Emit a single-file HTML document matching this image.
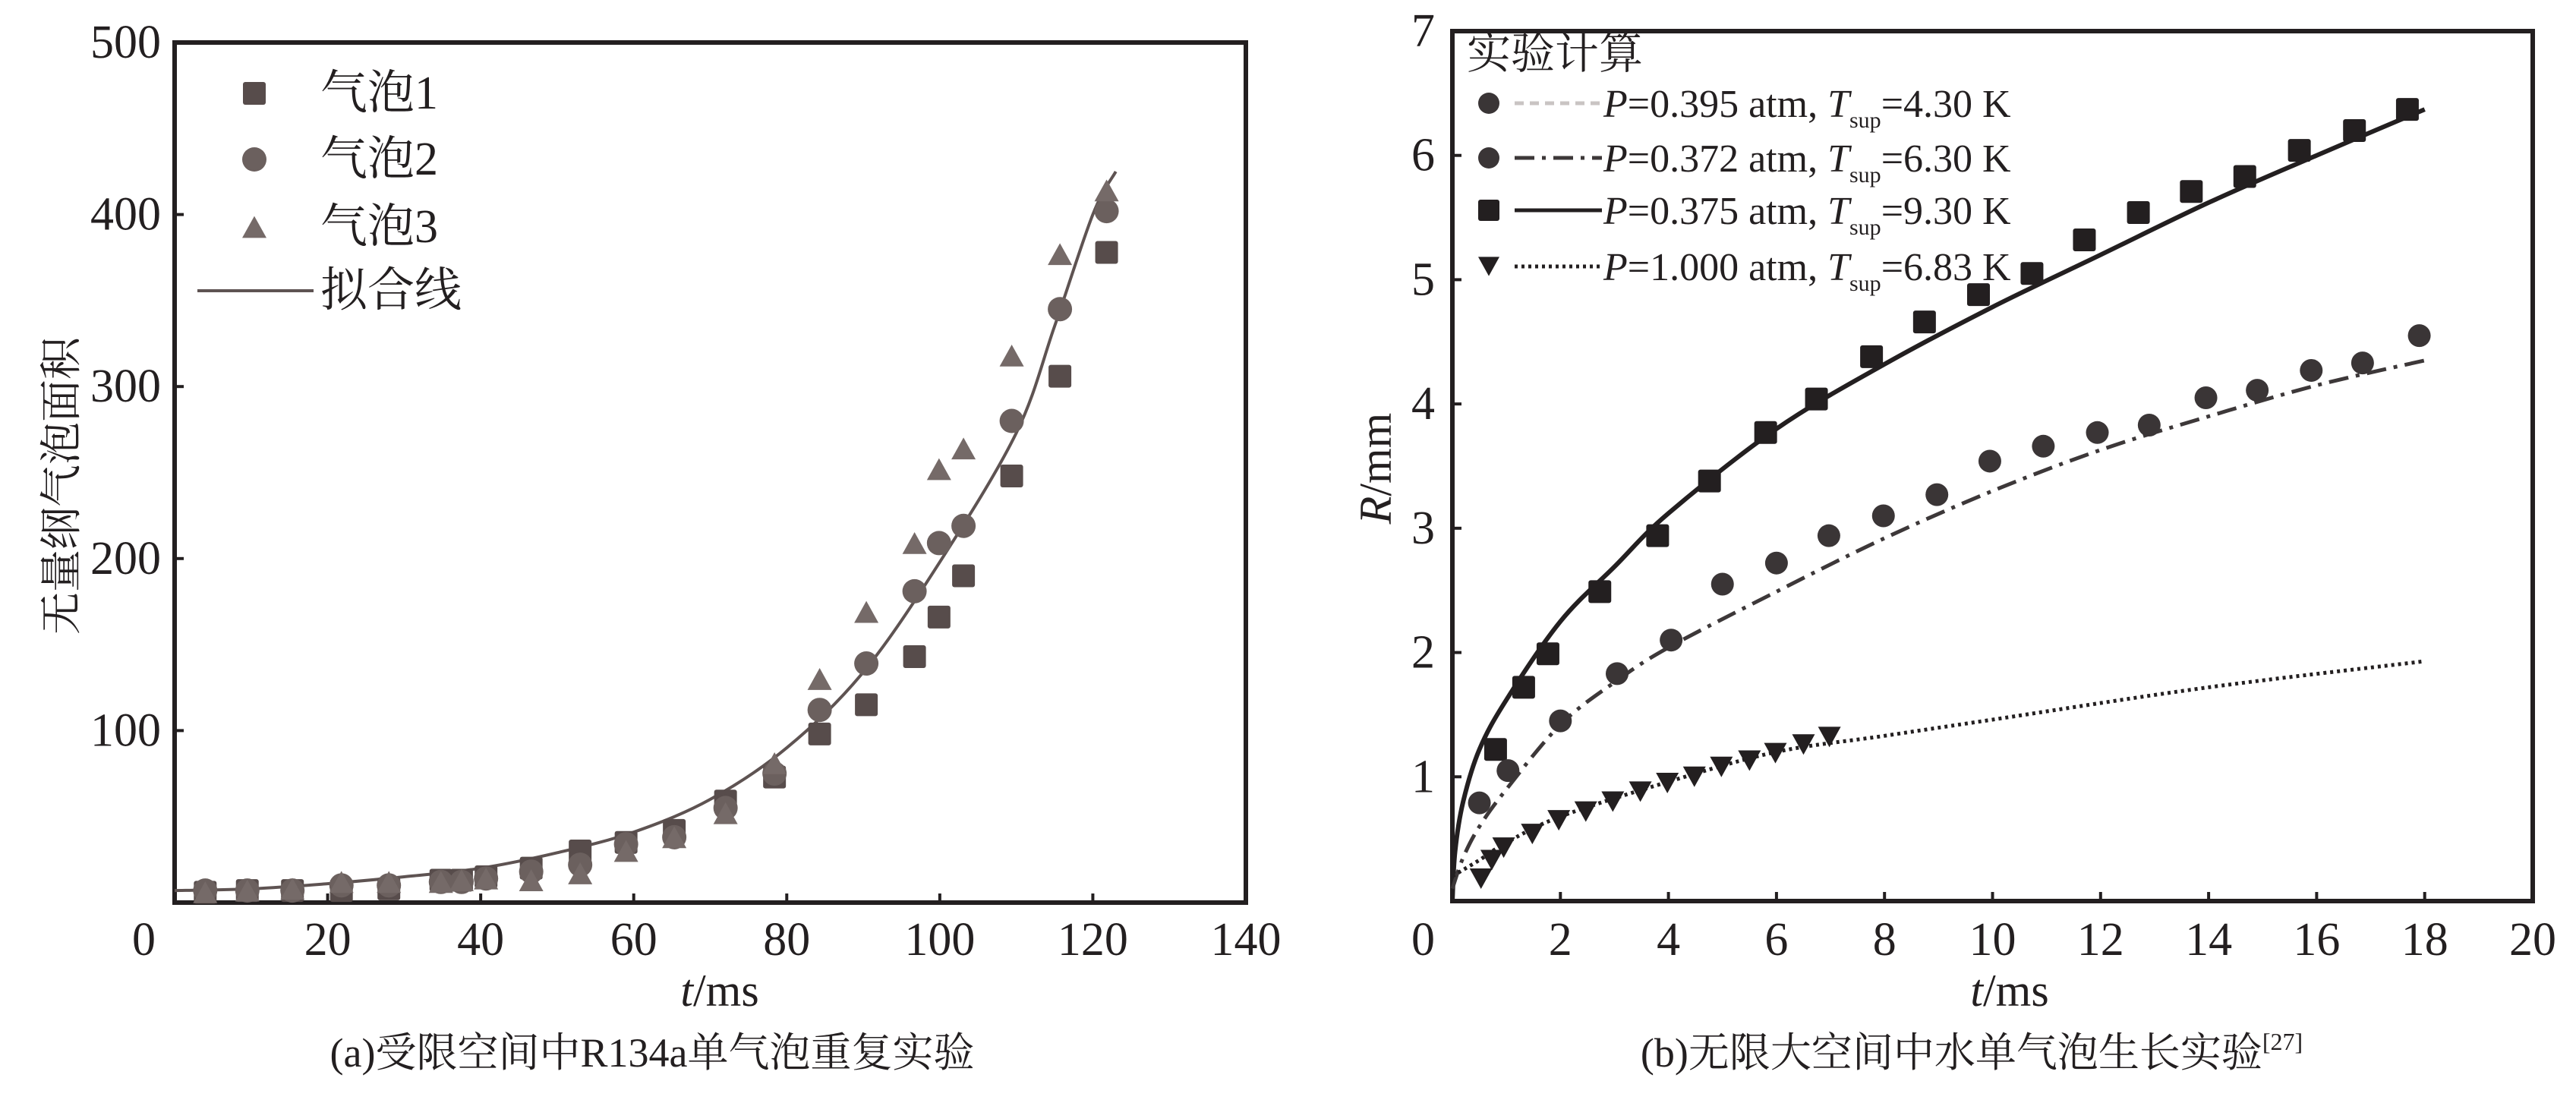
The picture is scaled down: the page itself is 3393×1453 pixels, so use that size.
<!DOCTYPE html>
<html><head><meta charset="utf-8">
<style>
html,body{margin:0;padding:0;background:#fff;}
svg{display:block;}
text{font-family:"Liberation Serif","Noto Serif CJK SC","Noto Sans CJK SC",serif;fill:#231f20;}
</style></head>
<body>
<svg id="fig" width="3393" height="1453" viewBox="0 0 3393 1453" xmlns="http://www.w3.org/2000/svg"></svg>
<script>
// ---- Chart (a) data ----
const aXTicks = [0,20,40,60,80,100,120,140];
const aYTicks = [100,200,300,400,500];
const b1X = [4,9.5,15.4,21.8,28,34.8,37.5,40.7,46.6,53,59,65.3,72,78.4,84.3,90.4,96.7,99.9,103.1,109.4,115.7,121.8];
const b1Y = [6,7,7,7,8,13,13,15,20,30,35,42,59,73,98,115,143,166,190,248,306,378];
const b2X = [4,9.5,15.4,21.8,28,34.8,37.5,40.7,46.6,53,59,65.3,72,78.4,84.3,90.4,96.7,99.9,103.1,109.4,115.7,121.8];
const b2Y = [7,7,7,10,10,12,12,14,18,22,34,38,55,75,112,139,181,209,219,280,345,402];
const b3X = [4,9.5,15.4,21.8,28,34.8,37.5,40.7,46.6,53,59,65.3,72,78.4,84.3,90.4,96.7,99.9,103.1,109.4,115.7,121.8];
const b3Y = [6,7,8,12,12,12,13,14,13,17,30,38,52,81,130,169,209,252,264,318,377,414];
const fitX = [0,10,20,30,40,50,60,70,80,90,100,110,115,120,123];
const fitY = [7,8,11,15,20,29,41,60,90,134,198,273,335,400,425];
// ---- Chart (b) data ----
const bXTicks = [2,4,6,8,10,12,14,16,18,20];
const bYTicks = [1,2,3,4,5,6,7];
const sqX = [0.8,1.32,1.77,2.73,3.8,4.76,5.8,6.74,7.76,8.74,9.74,10.73,11.7,12.7,13.68,14.67,15.68,16.7,17.68];
const sqY = [1.22,1.72,1.99,2.49,2.94,3.38,3.77,4.04,4.38,4.66,4.88,5.05,5.32,5.54,5.71,5.83,6.04,6.2,6.37];
const ciX = [0.5,1.03,2,3.05,4.05,5,6,6.97,7.98,8.97,9.95,10.94,11.94,12.9,13.95,14.9,15.9,16.85,17.9];
const ciY = [0.79,1.05,1.45,1.83,2.1,2.55,2.72,2.94,3.1,3.27,3.54,3.66,3.77,3.83,4.05,4.11,4.27,4.33,4.55];
const trX = [0.53,0.73,0.95,1.48,1.97,2.47,2.97,3.48,3.98,4.48,4.98,5.5,5.98,6.5,6.98];
const trY = [0.18,0.33,0.43,0.54,0.65,0.72,0.8,0.88,0.95,1.0,1.08,1.13,1.19,1.26,1.32];
const solidX = [0,0.05,0.2,0.5,1,2,3,4,6,8,10,12,14,16,18];
const solidY = [0,0.4,0.8,1.22,1.62,2.25,2.69,3.12,3.8,4.32,4.78,5.2,5.62,6.0,6.37];
const dashX = [0,0.2,0.5,1,2,3,4,6,8,10,12,14,16,18];
const dashY = [0.1,0.35,0.6,0.9,1.42,1.76,2.04,2.49,2.92,3.3,3.63,3.9,4.15,4.35];
const dotX = [0,0.5,1,2,4,6,8,10,14,18];
const dotY = [0.2,0.33,0.47,0.68,0.96,1.2,1.33,1.46,1.72,1.93];

const NS = "http://www.w3.org/2000/svg";
const svg = document.getElementById('fig');
function mk(tag, attrs, parent){
  const e = document.createElementNS(NS, tag);
  for (const k in attrs) e.setAttribute(k, attrs[k]);
  (parent||svg).appendChild(e);
  return e;
}
const ax = v => 230 + v*(1641-230)/140;
const ay = v => 1189 - v*(1189-56)/500;
const bx = v => 1913 + v*(3336-1913)/20;
const by = v => 1187 - v*(1187-41)/7;

function sq(cx,cy,s,fill,name){
  const e = mk('rect',{x:cx-s/2,y:cy-s/2,width:s,height:s,rx:3,fill:fill});
  
  
  return e;
}
function ci(cx,cy,r,fill,name){
  const e = mk('circle',{cx:cx,cy:cy,r:r,fill:fill});
  
  
  return e;
}
function tri(cx,cy,s,fill,up,name){
  const h = s*0.9;
  const pts = up ? `${cx-s/2},${cy+h/2} ${cx+s/2},${cy+h/2} ${cx},${cy-h/2}` : `${cx-s/2},${cy-h/2} ${cx+s/2},${cy-h/2} ${cx},${cy+h/2}`;
  const e = mk('polygon',{points:pts,fill:fill});
  
  
  return e;
}
function txt(x,y,s,size,anchor,name,extra){
  const e = mk('text',Object.assign({x:x,y:y,'font-size':size,'text-anchor':anchor||'start'},extra||{}));
  e.textContent = s;
  
  
  return e;
}
function path(xs,ys,fx,fy,attrs,name){
  const P = xs.map((v,i)=>[fx(v),fy(ys[i])]);
  let d = 'M'+P[0][0].toFixed(1)+','+P[0][1].toFixed(1);
  for(let i=0;i<P.length-1;i++){
    const p0=P[Math.max(0,i-1)], p1=P[i], p2=P[i+1], p3=P[Math.min(P.length-1,i+2)];
    const c1=[p1[0]+(p2[0]-p0[0])/6, p1[1]+(p2[1]-p0[1])/6];
    const c2=[p2[0]-(p3[0]-p1[0])/6, p2[1]-(p3[1]-p1[1])/6];
    d += 'C'+c1[0].toFixed(1)+','+c1[1].toFixed(1)+' '+c2[0].toFixed(1)+','+c2[1].toFixed(1)+' '+p2[0].toFixed(1)+','+p2[1].toFixed(1);
  }
  const e = mk('path',Object.assign({d:d,fill:'none'},attrs));
  
  
  return e;
}

// ===== Chart A =====
const frameA = mk('rect',{x:230,y:56,width:1411,height:1133,fill:'none',stroke:'#231f20','stroke-width':6});


aXTicks.forEach(v=>{
  const t = mk('line',{x1:ax(v),x2:ax(v),y1:1189,y2:1177,stroke:'#231f20','stroke-width':4});
  
  
  if(v===0) txt(205,1258,'0',62,'end','x-tick-label-a');
  else txt(ax(v),1258,String(v),62,'middle','x-tick-label-a');
});
aYTicks.forEach(v=>{
  const t = mk('line',{x1:230,x2:242,y1:ay(v),y2:ay(v),stroke:'#231f20','stroke-width':4});
  
  
  txt(212,ay(v)+20,String(v),62,'end','y-tick-label-a');
});
txt(913,1325,'t',60,'end','x-axis-title-a',{'font-style':'italic'});
txt(913,1325,'/ms',60,'start','x-axis-title-a-unit');
txt(0,0,'无量纲气泡面积',56,'middle','y-axis-title-a',{transform:'translate(100,640) rotate(-90)'});
txt(859,1405,'(a)受限空间中R134a单气泡重复实验',54,'middle','caption-a');

path(fitX,fitY,ax,ay,{stroke:'#5e5352','stroke-width':4},'fit-line');
b1X.forEach((v,i)=>sq(ax(v),ay(b1Y[i]),30,'#574c4b','bubble1-point'));
b2X.forEach((v,i)=>ci(ax(v),ay(b2Y[i]),16,'#6b605e','bubble2-point'));
b3X.forEach((v,i)=>tri(ax(v),ay(b3Y[i]),32,'#756a68',true,'bubble3-point'));

// legend A
sq(335,123,30,'#574c4b','legend-a-bubble1-marker');
txt(422,143,'气泡1',62,'start','legend-a-bubble1-label');
ci(335,210,16,'#6b605e','legend-a-bubble2-marker');
txt(422,230,'气泡2',62,'start','legend-a-bubble2-label');
tri(335,299,32,'#756a68',true,'legend-a-bubble3-marker');
txt(422,319,'气泡3',62,'start','legend-a-bubble3-label');
const lgl = mk('line',{x1:260,x2:413,y1:383,y2:383,stroke:'#5e5352','stroke-width':4});


txt(422,403,'拟合线',62,'start','legend-a-fit-label');

// ===== Chart B =====
const frameB = mk('rect',{x:1913,y:41,width:1423,height:1146,fill:'none',stroke:'#231f20','stroke-width':6});


bXTicks.forEach(v=>{
  const t = mk('line',{x1:bx(v),x2:bx(v),y1:1187,y2:1175,stroke:'#231f20','stroke-width':4});
  
  
  txt(bx(v),1258,String(v),62,'middle','x-tick-label-b');
});
txt(1890,1258,'0',62,'end','tick-label-b-zero');
bYTicks.forEach(v=>{
  const t = mk('line',{x1:1913,x2:1925,y1:by(v),y2:by(v),stroke:'#231f20','stroke-width':4});
  
  
  txt(1890,by(v)+20,String(v),62,'end','y-tick-label-b');
});
txt(2612,1325,'t',60,'end','x-axis-title-b',{'font-style':'italic'});
txt(2612,1325,'/ms',60,'start','x-axis-title-b-unit');
const ylB = mk('text',{'font-size':60,'text-anchor':'middle',transform:'translate(1832,617) rotate(-90)'});
ylB.innerHTML = '<tspan font-style="italic">R</tspan>/mm';


const capB = mk('text',{x:2597,y:1405,'font-size':54,'text-anchor':'middle'});
capB.innerHTML = '(b)无限大空间中水单气泡生长实验<tspan font-size="32" dy="-22">[27]</tspan>';



path(solidX,solidY,bx,by,{stroke:'#231f20','stroke-width':6},'line-p0375');
path(dashX,dashY,bx,by,{stroke:'#3d3839','stroke-width':5,'stroke-dasharray':'26 10 5 10'},'line-p0372');
path(dotX,dotY,bx,by,{stroke:'#231f20','stroke-width':5,'stroke-dasharray':'4 5'},'line-p1000');
sqX.forEach((v,i)=>sq(bx(v),by(sqY[i]),30,'#231f20','p0375-point'));
ciX.forEach((v,i)=>ci(bx(v),by(ciY[i]),15,'#3a3536','p0372-point'));
trX.forEach((v,i)=>tri(bx(v),by(trY[i]),30,'#231f20',false,'p1000-point'));

// legend B
txt(1932,90,'实验计算',58,'start','legend-b-title');
const legRows = [
  {y:136, mk:'c', col:'#3a3536', dash:'12 8', stroke:'#c9c4c3', label:'0.395 atm, ', T:'=4.30 K', n:'p0395'},
  {y:208, mk:'c', col:'#3a3536', dash:'26 10 5 10', stroke:'#3d3839', label:'0.372 atm, ', T:'=6.30 K', n:'p0372'},
  {y:277, mk:'s', col:'#231f20', dash:'', stroke:'#231f20', label:'0.375 atm, ', T:'=9.30 K', n:'p0375'},
  {y:351, mk:'t', col:'#231f20', dash:'4 5', stroke:'#231f20', label:'1.000 atm, ', T:'=6.83 K', n:'p1000'}
];
legRows.forEach(r=>{
  if(r.mk==='c') ci(1961,r.y,14,r.col,'legend-b-'+r.n+'-marker');
  else if(r.mk==='s') sq(1961,r.y,28,r.col,'legend-b-'+r.n+'-marker');
  else tri(1961,r.y,28,r.col,false,'legend-b-'+r.n+'-marker');
  const ln = mk('line',{x1:1995,x2:2110,y1:r.y,y2:r.y,stroke:r.stroke,'stroke-width':5});
  if(r.dash) ln.setAttribute('stroke-dasharray', r.dash);
  
  
  const t = mk('text',{x:2112,y:r.y+18,'font-size':52});
  t.innerHTML = '<tspan font-style="italic">P</tspan>='+r.label+'<tspan font-style="italic">T</tspan><tspan font-size="30" dy="14">sup</tspan><tspan dy="-14">'+r.T+'</tspan>';
  
  
});
</script>
</body></html>
